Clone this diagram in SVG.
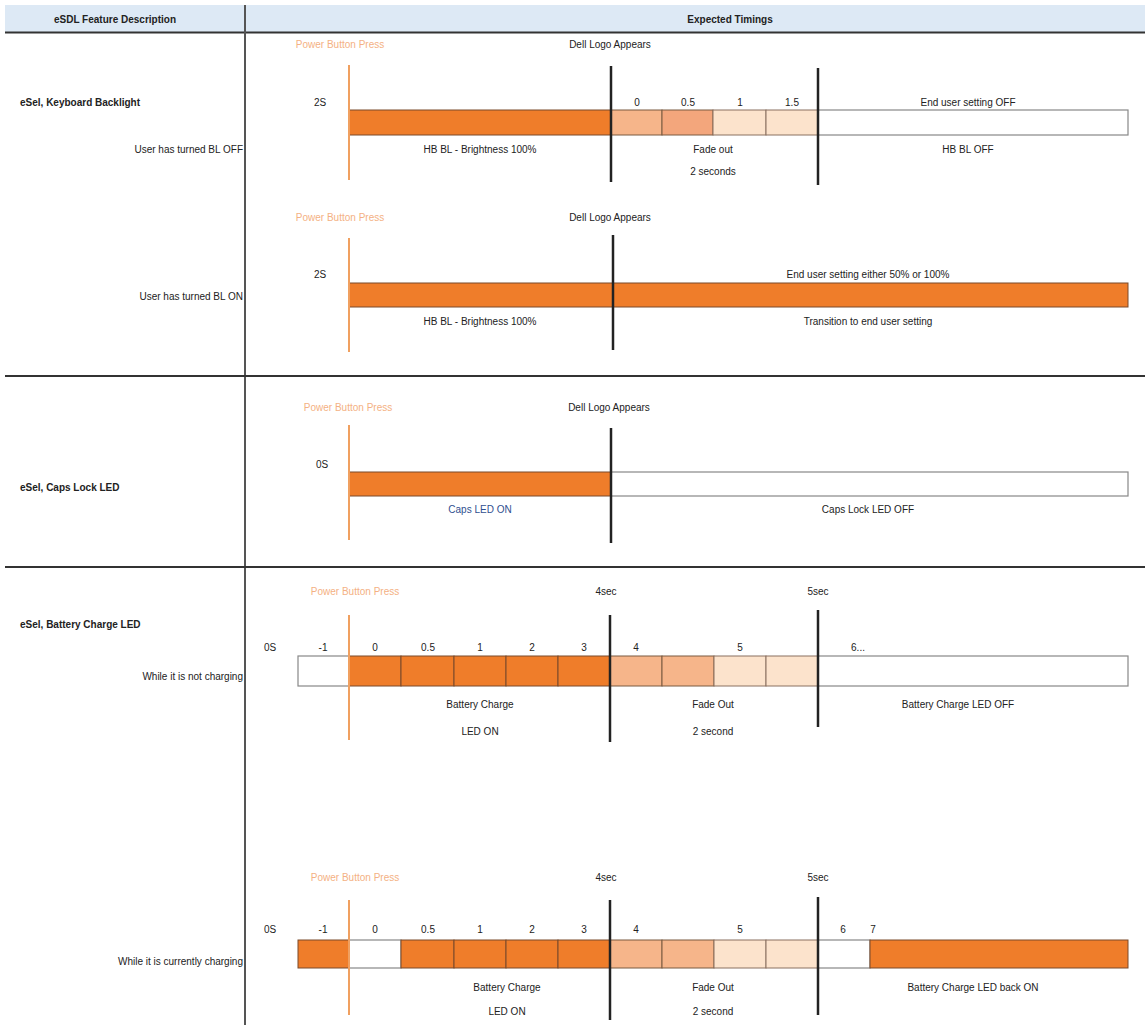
<svg xmlns="http://www.w3.org/2000/svg" width="1145" height="1025" viewBox="0 0 1145 1025">
<style>
text{font-family:"Liberation Sans",Arial,sans-serif;font-size:10px;fill:#222}
.b{font-weight:bold}
.m{text-anchor:middle}
.r{text-anchor:end}
.pb{fill:#f4b183}
.blue{fill:#2f4f8f}
.on{fill:#ef7d2a;stroke:#7a4a2a;stroke-width:1}
.f1{fill:#f6b58a;stroke:#7a5a40;stroke-width:1}
.f2{fill:#f3a67c;stroke:#7a5a40;stroke-width:1}
.f3{fill:#fce3cc;stroke:#8a7060;stroke-width:1}
.off{fill:#fff;stroke:#888;stroke-width:1.2}
.ol{stroke:#f0a060;stroke-width:2}
.kl{stroke:#222;stroke-width:2.5}
.sep{stroke:#333;stroke-width:2}
</style>
<rect x="0" y="0" width="1145" height="1025" fill="#fff"/>
<g id="header">
<rect x="5" y="5" width="1140" height="27" fill="#dde9f5"/>
<text x="115" y="23" class="b m">eSDL Feature Description</text>
<text x="730" y="23" class="b m">Expected Timings</text>
</g>
<g id="grid">
<line x1="5" y1="32.5" x2="1145" y2="32.5" class="sep" stroke-width="2.5"/>
<line x1="245" y1="5" x2="245" y2="1025" stroke="#555" stroke-width="2"/>
<line x1="5" y1="376" x2="1145" y2="376" class="sep"/>
<line x1="5" y1="567" x2="1145" y2="567" class="sep"/>
</g>
<g id="kb-off">
<text x="20" y="106" class="b">eSel, Keyboard Backlight</text>
<text x="243" y="153" class="r">User has turned BL OFF</text>
<text x="340" y="48" class="pb m">Power Button Press</text>
<text x="610" y="48" class="m">Dell Logo Appears</text>
<text x="320" y="106" class="m">2S</text>
<text x="637" y="106" class="m">0</text>
<text x="688" y="106" class="m">0.5</text>
<text x="740" y="106" class="m">1</text>
<text x="792" y="106" class="m">1.5</text>
<text x="968" y="106" class="m">End user setting OFF</text>
<rect x="349" y="110" width="262" height="25" class="on"/>
<rect x="611" y="110" width="51" height="25" class="f1"/>
<rect x="662" y="110" width="51" height="25" class="f2"/>
<rect x="713" y="110" width="53" height="25" class="f3"/>
<rect x="766" y="110" width="52" height="25" class="f3"/>
<rect x="818" y="110" width="310" height="25" class="off"/>
<line x1="349" y1="65" x2="349" y2="180" class="ol"/>
<line x1="611" y1="66" x2="611" y2="182" class="kl"/>
<line x1="818" y1="68" x2="818" y2="185" class="kl"/>
<text x="480" y="153" class="m">HB BL - Brightness 100%</text>
<text x="713" y="153" class="m">Fade out</text>
<text x="713" y="175" class="m">2 seconds</text>
<text x="968" y="153" class="m">HB BL OFF</text>
</g>
<g id="kb-on">
<text x="243" y="300" class="r">User has turned BL ON</text>
<text x="340" y="221" class="pb m">Power Button Press</text>
<text x="610" y="221" class="m">Dell Logo Appears</text>
<text x="320" y="278" class="m">2S</text>
<text x="868" y="278" class="m">End user setting either 50% or 100%</text>
<rect x="349" y="283" width="779" height="24" class="on"/>
<line x1="349" y1="238" x2="349" y2="352" class="ol"/>
<line x1="613" y1="235" x2="613" y2="350" class="kl"/>
<text x="480" y="325" class="m">HB BL - Brightness 100%</text>
<text x="868" y="325" class="m">Transition to end user setting</text>
</g>
<g id="caps">
<text x="20" y="491" class="b">eSel, Caps Lock LED</text>
<text x="348" y="411" class="pb m">Power Button Press</text>
<text x="609" y="411" class="m">Dell Logo Appears</text>
<text x="322" y="468" class="m">0S</text>
<rect x="349" y="472" width="262" height="24" class="on"/>
<rect x="611" y="472" width="517" height="24" class="off"/>
<line x1="349" y1="425" x2="349" y2="540" class="ol"/>
<line x1="611" y1="428" x2="611" y2="543" class="kl"/>
<text x="480" y="513" class="m blue">Caps LED ON</text>
<text x="868" y="513" class="m">Caps Lock LED OFF</text>
</g>
<g id="batt-not">
<text x="20" y="628" class="b">eSel, Battery Charge LED</text>
<text x="243" y="680" class="r">While it is not charging</text>
<text x="355" y="595" class="pb m">Power Button Press</text>
<text x="606" y="595" class="m">4sec</text>
<text x="818" y="595" class="m">5sec</text>
<text x="270" y="651" class="m">0S</text>
<text x="323" y="651" class="m">-1</text>
<text x="375" y="651" class="m">0</text>
<text x="428" y="651" class="m">0.5</text>
<text x="480" y="651" class="m">1</text>
<text x="532" y="651" class="m">2</text>
<text x="584" y="651" class="m">3</text>
<text x="636" y="651" class="m">4</text>
<text x="740" y="651" class="m">5</text>
<text x="858" y="651" class="m">6...</text>
<rect x="298" y="656" width="51" height="30" class="off"/>
<rect x="349" y="656" width="52" height="30" class="on"/>
<rect x="401" y="656" width="53" height="30" class="on"/>
<rect x="454" y="656" width="52" height="30" class="on"/>
<rect x="506" y="656" width="52" height="30" class="on"/>
<rect x="558" y="656" width="52" height="30" class="on"/>
<rect x="610" y="656" width="52" height="30" class="f1"/>
<rect x="662" y="656" width="52" height="30" class="f1"/>
<rect x="714" y="656" width="52" height="30" class="f3"/>
<rect x="766" y="656" width="52" height="30" class="f3"/>
<rect x="818" y="656" width="310" height="30" class="off"/>
<line x1="349" y1="615" x2="349" y2="740" class="ol"/>
<line x1="610" y1="615" x2="610" y2="742" class="kl"/>
<line x1="818" y1="610" x2="818" y2="727" class="kl"/>
<text x="480" y="708" class="m">Battery Charge</text>
<text x="480" y="735" class="m">LED ON</text>
<text x="713" y="708" class="m">Fade Out</text>
<text x="713" y="735" class="m">2 second</text>
<text x="958" y="708" class="m">Battery Charge LED OFF</text>
</g>
<g id="batt-charging">
<text x="243" y="965" class="r">While it is currently charging</text>
<text x="355" y="881" class="pb m">Power Button Press</text>
<text x="606" y="881" class="m">4sec</text>
<text x="818" y="881" class="m">5sec</text>
<text x="270" y="933" class="m">0S</text>
<text x="323" y="933" class="m">-1</text>
<text x="375" y="933" class="m">0</text>
<text x="428" y="933" class="m">0.5</text>
<text x="480" y="933" class="m">1</text>
<text x="532" y="933" class="m">2</text>
<text x="584" y="933" class="m">3</text>
<text x="636" y="933" class="m">4</text>
<text x="740" y="933" class="m">5</text>
<text x="843" y="933" class="m">6</text>
<text x="873" y="933" class="m">7</text>
<rect x="298" y="940" width="51" height="28" class="on"/>
<rect x="349" y="940" width="52" height="28" class="off"/>
<rect x="401" y="940" width="53" height="28" class="on"/>
<rect x="454" y="940" width="52" height="28" class="on"/>
<rect x="506" y="940" width="52" height="28" class="on"/>
<rect x="558" y="940" width="52" height="28" class="on"/>
<rect x="610" y="940" width="52" height="28" class="f1"/>
<rect x="662" y="940" width="52" height="28" class="f1"/>
<rect x="714" y="940" width="52" height="28" class="f3"/>
<rect x="766" y="940" width="52" height="28" class="f3"/>
<rect x="818" y="940" width="52" height="28" class="off"/>
<rect x="870" y="940" width="258" height="28" class="on"/>
<line x1="349" y1="900" x2="349" y2="1015" class="ol"/>
<line x1="610" y1="900" x2="610" y2="1020" class="kl"/>
<line x1="818" y1="897" x2="818" y2="1015" class="kl"/>
<text x="507" y="991" class="m">Battery Charge</text>
<text x="507" y="1015" class="m">LED ON</text>
<text x="713" y="991" class="m">Fade Out</text>
<text x="713" y="1015" class="m">2 second</text>
<text x="973" y="991" class="m">Battery Charge LED back ON</text>
</g>
</svg>
